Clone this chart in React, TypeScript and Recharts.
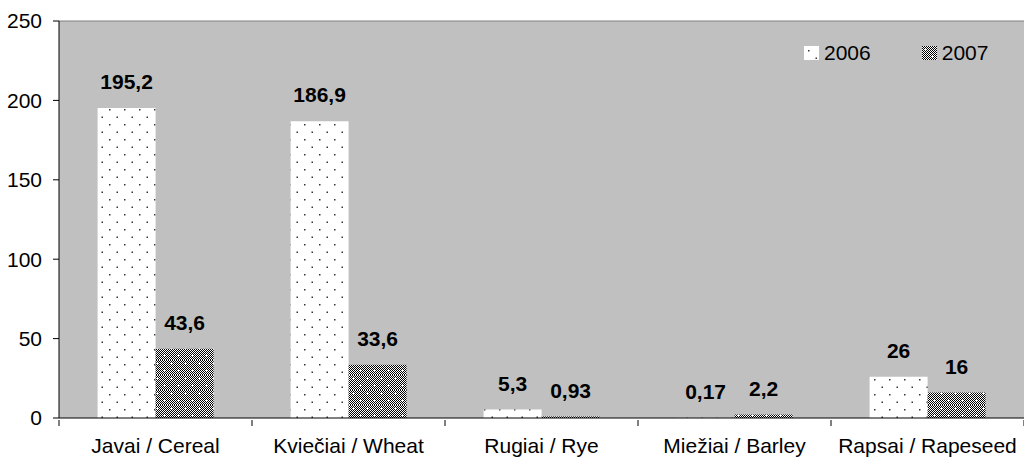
import { BarChart, Bar, XAxis, YAxis, LabelList, ReferenceLine, CartesianGrid } from 'recharts';

const categories = ['Javai / Cereal', 'Kviečiai / Wheat', 'Rugiai / Rye', 'Miežiai / Barley', 'Rapsai / Rapeseed'];
const values2006 = [195.2, 186.9, 5.3, 0.17, 26];
const values2007 = [43.6, 33.6, 0.93, 2.2, 16];
const labels2006 = ['195,2', '186,9', '5,3', '0,17', '26'];
const labels2007 = ['43,6', '33,6', '0,93', '2,2', '16'];
const yTicks = [0, 50, 100, 150, 200, 250];

const data = categories.map((name, i) => ({
  name,
  y2006: values2006[i],
  y2007: values2007[i],
  l2006: labels2006[i],
  l2007: labels2007[i],
}));

const FONT = '"Liberation Sans", Arial, sans-serif';
const FS = 21;
const W = 1024;
const H = 459;
const Y_AXIS_W = 59;
const BAND = (W - Y_AXIS_W) / categories.length;

const CategoryTick = (props: any) => {
  const { x, y, payload, index } = props;
  const half = BAND / 2;
  return (
    <g>
      {index === 0 && <line x1={x - half} x2={x - half} y1={y - 6} y2={y} stroke="#000" />}
      <line x1={x + half} x2={x + half} y1={y - 6} y2={y} stroke="#000" />
      <text x={x} y={y + 27} textAnchor="middle" fontSize={FS} fontFamily={FONT} fill="#000">
        {payload.value}
      </text>
    </g>
  );
};

const ValueLabel = (props: any) => {
  const { x, y, width, value } = props;
  return (
    <text x={x + width / 2} y={y - 19} textAnchor="middle" fontSize={FS} fontWeight="bold" fontFamily={FONT} fill="#000">
      {value}
    </text>
  );
};

// legend sits inside the plot, top right
const LegendBox = () => (
  <div
    style={{
      position: 'absolute',
      left: 804,
      top: 41,
      display: 'flex',
      alignItems: 'center',
      fontFamily: FONT,
      fontSize: FS,
      color: '#000',
      lineHeight: '24px',
    }}
  >
    <svg width={15} height={14} style={{ marginRight: 5 }}>
      <rect width={15} height={14} fill="url(#dots)" />
    </svg>
    <span style={{ marginRight: 51 }}>2006</span>
    <svg width={15} height={14} style={{ marginRight: 5 }}>
      <rect width={15} height={14} fill="url(#hatch)" />
    </svg>
    <span>2007</span>
  </div>
);

export default function App() {
  return (
    <div style={{ position: 'absolute', left: 0, top: 0, width: W, height: H, background: '#fff' }}>
      <BarChart width={W} height={H} data={data} margin={{ top: 21, right: 0, left: 0, bottom: 0 }} barCategoryGap="20%" barGap={0}>
        <defs>
          <pattern id="dots" width={15} height={15} patternUnits="userSpaceOnUse">
            <rect width={15} height={15} fill="#fff" />
            <rect x={4} y={4} width={1.5} height={1.5} fill="#333" />
            <rect x={11.5} y={11.5} width={1.5} height={1.5} fill="#333" />
          </pattern>
          <pattern id="checker" width={2} height={2} patternUnits="userSpaceOnUse">
            <rect width={2} height={2} fill="#fff" />
            <rect width={1} height={1} fill="#000" />
            <rect x={1} y={1} width={1} height={1} fill="#000" />
          </pattern>
          <pattern id="hatch" width={14} height={15} patternUnits="userSpaceOnUse">
            <rect width={14} height={15} fill="url(#checker)" />
            <rect x={2} y={3} width={3} height={1} fill="#fff" />
            <rect x={3} y={2} width={1} height={3} fill="#fff" />
            <rect x={9} y={10} width={3} height={1} fill="#fff" />
            <rect x={10} y={9} width={1} height={3} fill="#fff" />
          </pattern>
        </defs>
        <CartesianGrid fill="#c0c0c0" horizontal={false} vertical={false} />
        <XAxis
          dataKey="name"
          height={41}
          tickSize={6}
          tickLine={false}
          axisLine={{ stroke: '#000' }}
          tick={<CategoryTick />}
          interval={0}
        />
        <YAxis
          width={Y_AXIS_W}
          domain={[0, 250]}
          ticks={yTicks}
          tickSize={6}
          tickMargin={11}
          axisLine={{ stroke: '#000' }}
          tickLine={{ stroke: '#000' }}
          tick={{ fontSize: FS, fontFamily: FONT, fill: '#000' }}
        />
        <ReferenceLine y={250} stroke="#808080" />
        <Bar dataKey="y2006" name="2006" fill="url(#dots)" isAnimationActive={false}>
          <LabelList dataKey="l2006" content={<ValueLabel />} />
        </Bar>
        <Bar dataKey="y2007" name="2007" fill="url(#hatch)" isAnimationActive={false}>
          <LabelList dataKey="l2007" content={<ValueLabel />} />
        </Bar>
      </BarChart>
      <LegendBox />
    </div>
  );
}
